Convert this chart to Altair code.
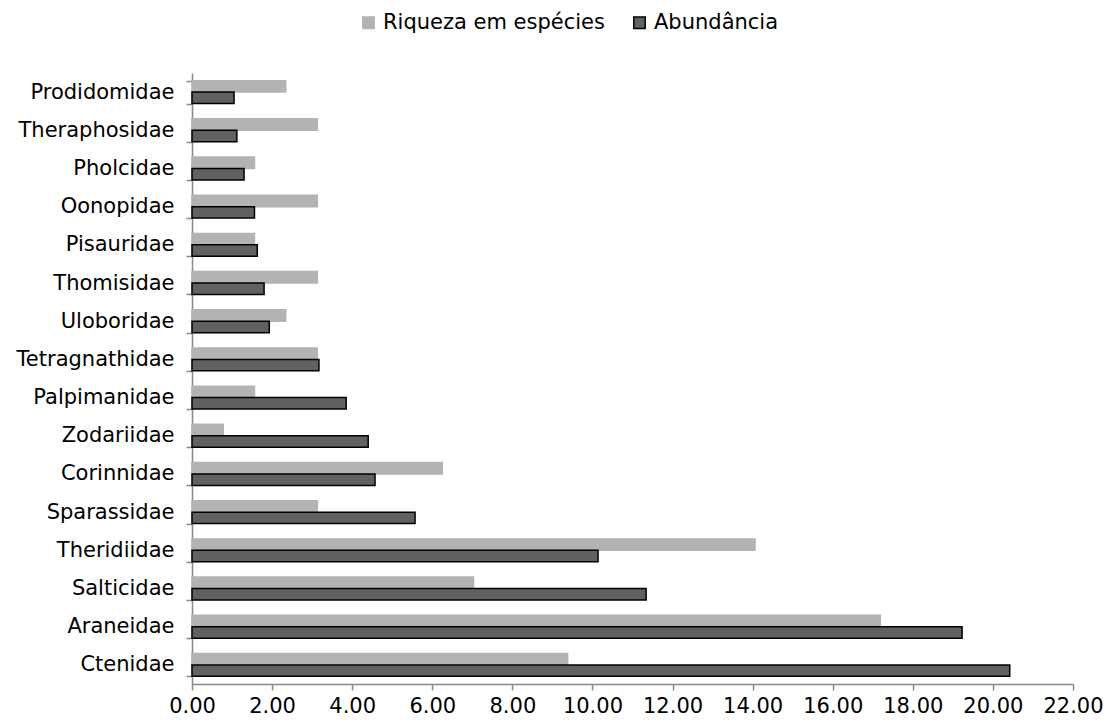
import altair as alt
import pandas as pd

# Spider families, listed top to bottom
families = [
    "Prodidomidae", "Theraphosidae", "Pholcidae", "Oonopidae", "Pisauridae",
    "Thomisidae", "Uloboridae", "Tetragnathidae", "Palpimanidae", "Zodariidae",
    "Corinnidae", "Sparassidae", "Theridiidae", "Salticidae", "Araneidae", "Ctenidae",
]
riqueza = [2.34, 3.13, 1.56, 3.13, 1.56, 3.13, 2.34, 3.13, 1.56, 0.78,
           6.25, 3.13, 14.06, 7.03, 17.19, 9.38]
abundancia = [1.05, 1.12, 1.30, 1.56, 1.63, 1.80, 1.93, 3.17, 3.85, 4.40,
              4.57, 5.57, 10.14, 11.34, 19.23, 20.42]

series = ["Riqueza em espécies", "Abundância"]

rows = []
for f, r, a in zip(families, riqueza, abundancia):
    rows.append({"familia": f, "serie": series[0], "valor": r})
    rows.append({"familia": f, "serie": series[1], "valor": a})
df = pd.DataFrame(rows)

FONT = "DejaVu Sans"
FS = 21

legend_cfg = dict(title=None, orient="none", direction="horizontal",
                  legendX=166, legendY=-61, symbolType="square",
                  symbolSize=130, labelFontSize=FS, labelFont=FONT,
                  labelColor="#000000", columnPadding=24, labelLimit=0,
                  labelOffset=4, symbolStrokeWidth=1.5)

chart = alt.Chart(df).mark_bar(strokeWidth=1.5).encode(
    y=alt.Y("familia:N", sort=families, title=None,
            scale=alt.Scale(paddingInner=0.4, paddingOuter=0.2),
            axis=alt.Axis(tickBand="extent", labelFontSize=FS, labelPadding=12,
                          labelColor="#000000", domainColor="#898989", tickColor="#898989",
                          tickSize=6, domainWidth=1.5, tickWidth=1.5, labelFont=FONT,
                          labelLimit=0)),
    yOffset=alt.YOffset("serie:N", sort=series),
    x=alt.X("valor:Q", title=None,
            scale=alt.Scale(domain=[0, 22], nice=False),
            axis=alt.Axis(values=list(range(0, 23, 2)), format=".2f", grid=False,
                          labelFontSize=FS, labelPadding=5, labelColor="#000000",
                          domainColor="#898989", tickColor="#898989", tickSize=6,
                          domainWidth=1.5, tickWidth=1.5, labelFont=FONT,
                          labelOverlap=False, labelFlush=False)),
    fill=alt.Fill("serie:N", sort=series,
                  scale=alt.Scale(domain=series, range=["#b3b3b3", "#616161"]),
                  legend=alt.Legend(**legend_cfg)),
    stroke=alt.Stroke("serie:N", sort=series,
                      scale=alt.Scale(domain=series, range=["#b3b3b3", "#000000"]),
                      legend=alt.Legend(**legend_cfg)),
).properties(
    width=881,
    height=611,
    autosize=alt.AutoSizeParams(type="none"),
    padding={"left": 192, "top": 73, "right": 36, "bottom": 38},
    background="#ffffff",
).configure_view(stroke=None)

chart.save("out.html", embed_options={"renderer": "svg", "actions": False})
